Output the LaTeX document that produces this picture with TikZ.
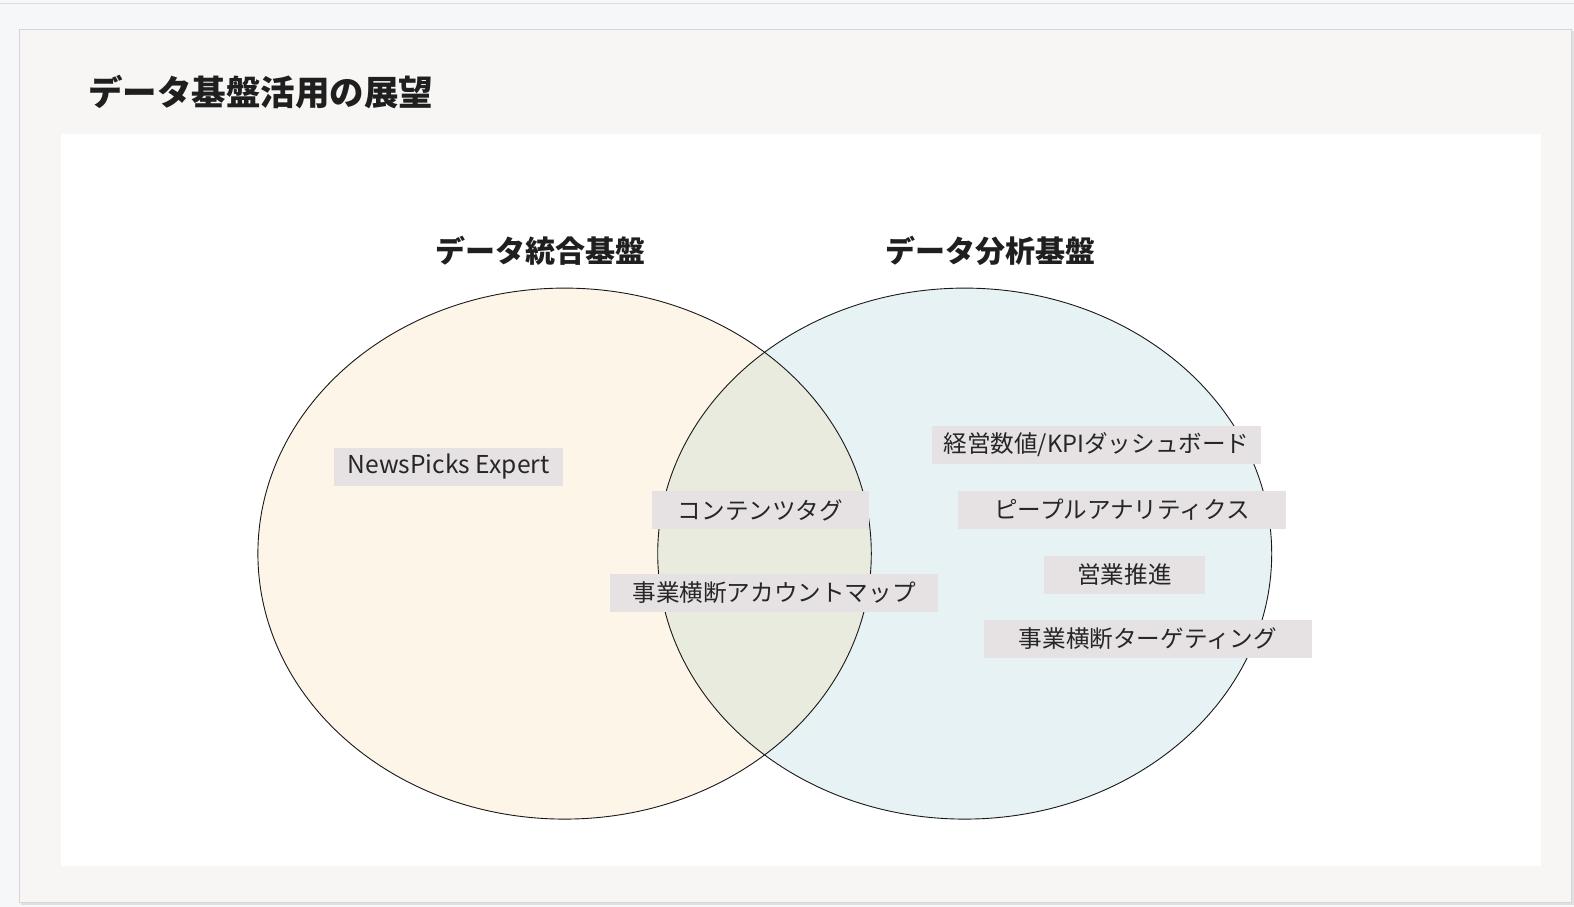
\documentclass[tikz,border=0pt]{standalone}
\usepackage{fontspec}
\setmainfont{Noto Sans CJK JP}
\begin{document}
\begin{tikzpicture}[x=1pt,y=-1pt,
  lbl/.style={fill=boxgray, inner sep=0pt, minimum height=38pt, font=\fontsize{23.6}{28}\selectfont, text=black!85},
  ctitle/.style={font=\fontsize{30}{35}\selectfont\bfseries, text=black!88}]
\definecolor{pagebg}{HTML}{F6F7F9}
\definecolor{cardbg}{HTML}{F7F6F4}
\definecolor{cardline}{HTML}{D6D6D6}
\definecolor{boxgray}{HTML}{E6E2E3}
\definecolor{leftfill}{HTML}{FDF5E8}
\definecolor{rightfill}{HTML}{E7F2F4}
\definecolor{midfill}{HTML}{E9EBDF}
\useasboundingbox (0,0) rectangle (1574,907);
\fill[pagebg] (0,0) rectangle (1574,907);
\draw[cardline!80, line width=1.2pt] (0,3.3) -- (1574,3.3);
\fill[black!12] (21,31) rectangle (1574,905);
\filldraw[fill=cardbg, draw=cardline, line width=1pt] (19.5,29.5) rectangle (1571.5,902.5);
\fill[white] (61,134) rectangle (1541,866);
\node[anchor=west, font=\fontsize{34.5}{40}\selectfont\bfseries, text=black!88, inner sep=0pt] (title) at (88,92) {データ基盤活用の展望};
% ellipses
\fill[leftfill] (564.6,553.6) ellipse [x radius=306.7, y radius=265.5];
\fill[rightfill] (964.7,553.6) ellipse [x radius=307, y radius=265.5];
\begin{scope}
  \clip (564.6,553.6) ellipse [x radius=306.7, y radius=265.5];
  \fill[midfill] (964.7,553.6) ellipse [x radius=307, y radius=265.5];
\end{scope}
\draw[black!90, line width=0.9pt] (564.6,553.6) ellipse [x radius=306.7, y radius=265.5];
\draw[black!90, line width=0.9pt] (964.7,553.6) ellipse [x radius=307, y radius=265.5];
\node[ctitle] (lt) at (540,251) {データ統合基盤};
\node[ctitle] (rt) at (990,251) {データ分析基盤};
% labels
\node[lbl, minimum width=229pt, font=\fontsize{24.6}{28}\selectfont] (np) at (448.5,467) {NewsPicks Expert};
\node[lbl, minimum width=217pt] (ct) at (760.5,510) {コンテンツタグ};
\node[lbl, minimum width=328pt] (am) at (774,592.5) {事業横断アカウントマップ};
\node[lbl, minimum width=329pt] (kpi) at (1096.5,445) {経営数値/KPIダッシュボード};
\node[lbl, minimum width=328pt] (pa) at (1122,510) {ピープルアナリティクス};
\node[lbl, minimum width=161pt] (sp) at (1124.5,575) {営業推進};
\node[lbl, minimum width=328pt] (tg) at (1148,639) {事業横断ターゲティング};
\end{tikzpicture}
\end{document}
